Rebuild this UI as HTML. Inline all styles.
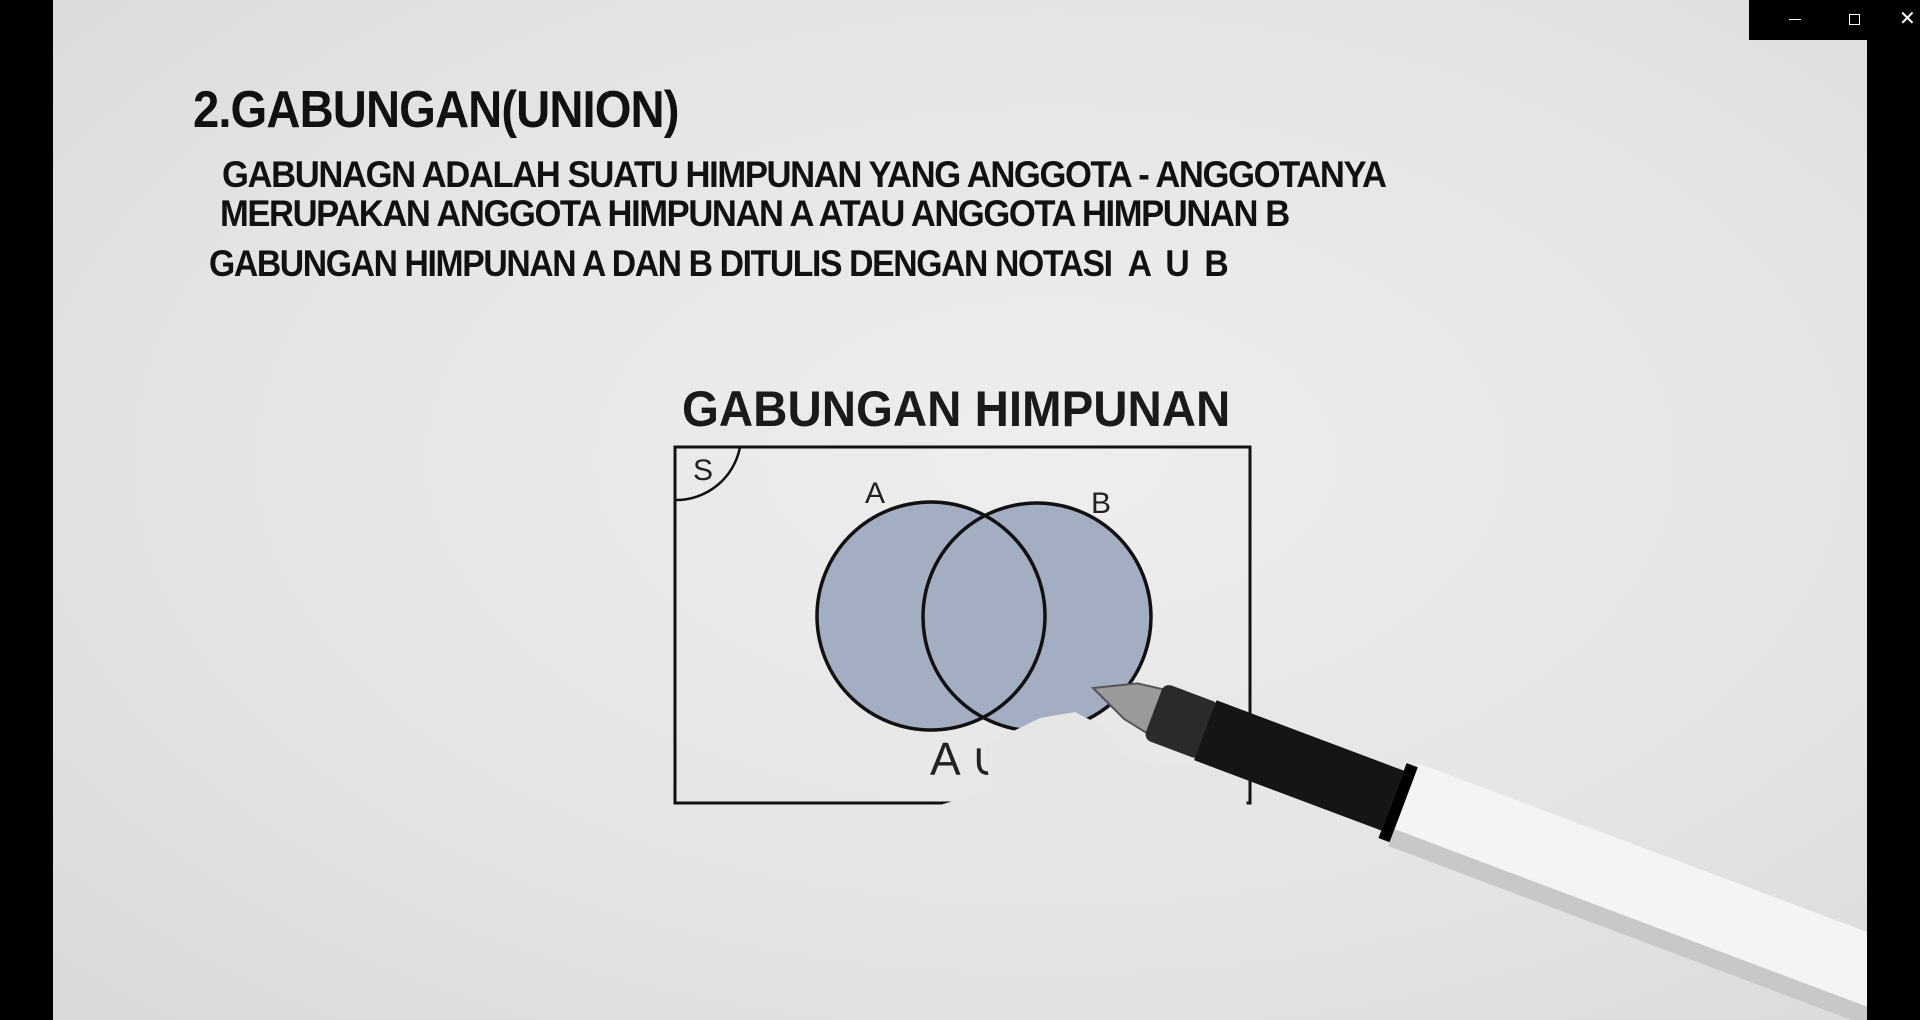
<!DOCTYPE html>
<html><head><meta charset="utf-8">
<style>
html,body{margin:0;padding:0;width:1920px;height:1020px;overflow:hidden;background:#000;}
#slide{position:absolute;left:53px;top:0;width:1814px;height:1020px;background:radial-gradient(ellipse at 55% 45%,#eeeeee 0%,#e4e4e4 60%,#d9d9d9 100%);}
.t{position:absolute;font-family:"Liberation Sans",sans-serif;font-weight:bold;color:#111;white-space:nowrap;transform-origin:0 0;}
#winctl{position:absolute;left:1749px;top:0;width:171px;height:40px;background:#000;}
#rightbar{position:absolute;left:1867px;top:0;width:53px;height:1020px;background:#000;}
</style></head><body>
<div id="slide"></div>
<div class="t" style="left:193px;top:80px;font-size:52px;letter-spacing:-1px;transform:scaleX(0.908);">2.GABUNGAN(UNION)</div>
<div class="t" style="left:222px;top:154px;font-size:37px;letter-spacing:-1.5px;transform:scaleX(0.936);">GABUNAGN ADALAH SUATU HIMPUNAN YANG ANGGOTA - ANGGOTANYA</div>
<div class="t" style="left:220px;top:193px;font-size:37px;letter-spacing:-1.5px;transform:scaleX(0.934);">MERUPAKAN ANGGOTA HIMPUNAN A ATAU ANGGOTA HIMPUNAN B</div>
<div class="t" style="left:209px;top:243px;font-size:37px;letter-spacing:-1.5px;transform:scaleX(0.911);">GABUNGAN HIMPUNAN A DAN B DITULIS DENGAN NOTASI &nbsp;A &nbsp;U &nbsp;B</div>
<div class="t" style="left:682px;top:380px;font-size:50px;color:#1a1a1a;transform:scaleX(0.949);">GABUNGAN HIMPUNAN</div>
<svg width="1920" height="1020" style="position:absolute;left:0;top:0">
  <rect x="675" y="447" width="575" height="356" fill="none" stroke="#111" stroke-width="3"/>
  <path d="M675 500 A 65 65 0 0 0 740 447" fill="none" stroke="#111" stroke-width="2.5"/>
  <text x="693" y="480" font-family="Liberation Sans,sans-serif" font-size="30" fill="#222">S</text>
  <circle cx="931" cy="616" r="114" fill="#a3aec2"/>
  <circle cx="1037" cy="617" r="114" fill="#a3aec2"/>
  <circle cx="931" cy="616" r="114" fill="none" stroke="#111" stroke-width="3.5"/>
  <circle cx="1037" cy="617" r="114" fill="none" stroke="#111" stroke-width="3.5"/>
  <text x="865" y="503" font-family="Liberation Sans,sans-serif" font-size="30" fill="#222">A</text>
  <text x="1091" y="513" font-family="Liberation Sans,sans-serif" font-size="30" fill="#222">B</text>
  <text x="930" y="775" font-family="Liberation Sans,sans-serif" font-size="46" fill="#222">A ∪</text>
  <polygon points="985,745 1040,718 1075,712 1100,725 1130,760 1240,770 1250,820 935,820 940,805 990,790" fill="#e6e6e6"/>
  <g transform="translate(1093,688) rotate(20.6)">
    <polygon points="0,0 40,-20 70,-24 70,24 40,18" fill="#9a9a9a" stroke="#555" stroke-width="2"/>
    <rect x="65" y="-30" width="60" height="60" rx="8" fill="#2a2a2a"/>
    <rect x="120" y="-32" width="200" height="64" fill="#151515"/>
    <rect x="320" y="-40" width="12" height="80" fill="#000"/>
    <rect x="332" y="-44" width="560" height="88" fill="#f4f4f4"/>
    <rect x="332" y="26" width="560" height="18" fill="#c8c8c8"/>
    <rect x="880" y="-44" width="60" height="88" fill="#111"/>
  </g>
</svg>
<div id="rightbar"></div>
<div id="winctl">
  <div style="position:absolute;left:40px;top:19px;width:12px;height:1px;background:#fff;"></div>
  <div style="position:absolute;left:100px;top:14px;width:9px;height:9px;border:1px solid #fff;"></div>
  <div style="position:absolute;left:150px;top:6px;color:#fff;font:20px 'Liberation Sans',sans-serif;">✕</div>
</div>
</body></html>
